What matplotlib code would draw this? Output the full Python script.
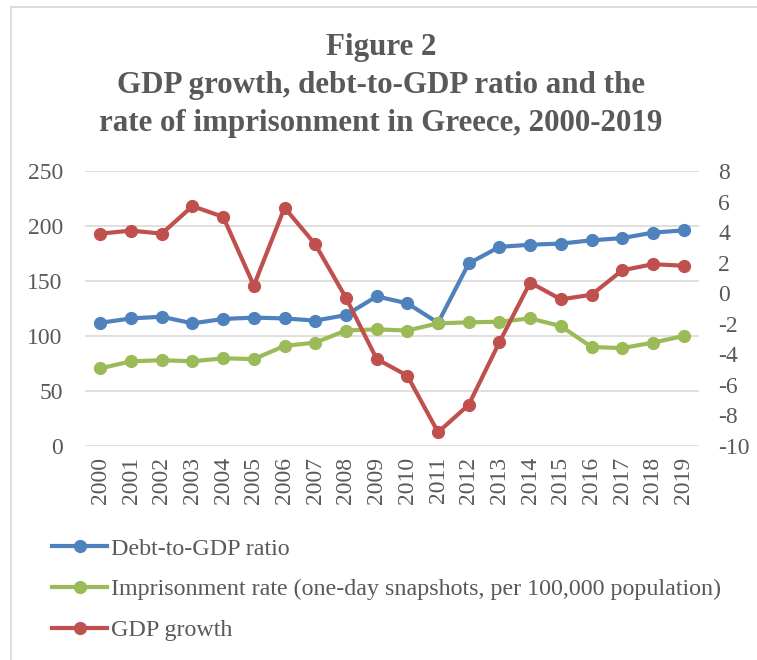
import matplotlib
matplotlib.use("Agg")
import matplotlib.pyplot as plt
from matplotlib.patches import Rectangle

years = [str(y) for y in range(2000, 2020)]
debt_to_gdp = [112, 116, 117.5, 111.5, 115.5, 116.7, 116, 114, 119, 136,
               129.7, 112, 166, 181, 183, 184, 187, 189, 194, 196]
imprisonment = [70.6, 77, 78, 77, 79.7, 79, 91, 94, 105, 106,
                105, 111.5, 112.4, 113, 116, 109, 90, 89, 94, 100]
gdp_growth = [3.9, 4.1, 3.9, 5.7, 5.0, 0.5, 5.6, 3.2, -0.3, -4.3,
              -5.4, -9.1, -7.3, -3.2, 0.7, -0.4, -0.1, 1.5, 1.9, 1.8]

left_ticks = [0, 50, 100, 150, 200, 250]
right_ticks = [-10, -8, -6, -4, -2, 0, 2, 4, 6, 8]

BLUE = "#4F81BD"
GREEN = "#9BBB59"
RED = "#C0504D"
TXT = "#595959"
GRID = "#D9D9D9"

plt.rcParams['font.family'] = ['Liberation Serif', 'DejaVu Serif']
plt.rcParams['axes.unicode_minus'] = False

W, H = 757, 660
fig = plt.figure(figsize=(W / 100, H / 100), dpi=100)

# chart border (left/top visible)
fig.patches.append(Rectangle((11 / W, -0.1), 1.2, 1 - 7 / H + 0.1,
                             transform=fig.transFigure, fill=False,
                             edgecolor=GRID, lw=1.3))

FS = 17
ax = fig.add_axes([85 / W, 1 - 446 / H, (699 - 85) / W, 275 / H])
x = list(range(len(years)))
l1, = ax.plot(x, debt_to_gdp, color=BLUE, lw=3, marker='o', ms=8.5, zorder=3)
l2, = ax.plot(x, imprisonment, color=GREEN, lw=3, marker='o', ms=8.5, zorder=4)
ax.set_xlim(-0.5, len(years) - 0.5)
ax.set_ylim(0, 250)
ax.set_yticks(left_ticks)
ax.set_xticks(x)
ax.set_xticklabels(years, rotation=90)
ax.grid(axis='y', color=GRID, lw=1.2)
ax.set_axisbelow(True)
for s in ax.spines.values():
    s.set_visible(False)
ax.tick_params(axis='y', length=0, pad=16, labelsize=FS, labelcolor=TXT)
ax.tick_params(axis='x', length=0, pad=8, labelsize=FS, labelcolor=TXT)

ax2 = ax.twinx()
l3, = ax2.plot(x, gdp_growth, color=RED, lw=3, marker='o', ms=8.5, zorder=5)
ax2.set_ylim(-10, 8)
ax2.set_yticks(right_ticks)
for s in ax2.spines.values():
    s.set_visible(False)
ax2.tick_params(axis='y', length=0, pad=14, labelsize=FS, labelcolor=TXT)

fig.text(381 / W, 1 - 33 / H,
         "Figure 2\nGDP growth, debt-to-GDP ratio and the\nrate of imprisonment in Greece, 2000-2019",
         ha='center', va='top', fontsize=22.3, fontweight='bold', color=TXT,
         linespacing=1.42)

leg = fig.legend([l1, l2, l3],
                 ["Debt-to-GDP ratio",
                  "Imprisonment rate (one-day snapshots, per 100,000 population)",
                  "GDP growth"],
                 loc='upper left', bbox_to_anchor=(52 / W, 1 - 538 / H),
                 frameon=False, fontsize=17.3, handlelength=2.3,
                 handletextpad=0.17, labelspacing=0.78, borderaxespad=0,
                 borderpad=0)
for t in leg.get_texts():
    t.set_color(TXT)

fig.savefig("out.png", dpi=100)
